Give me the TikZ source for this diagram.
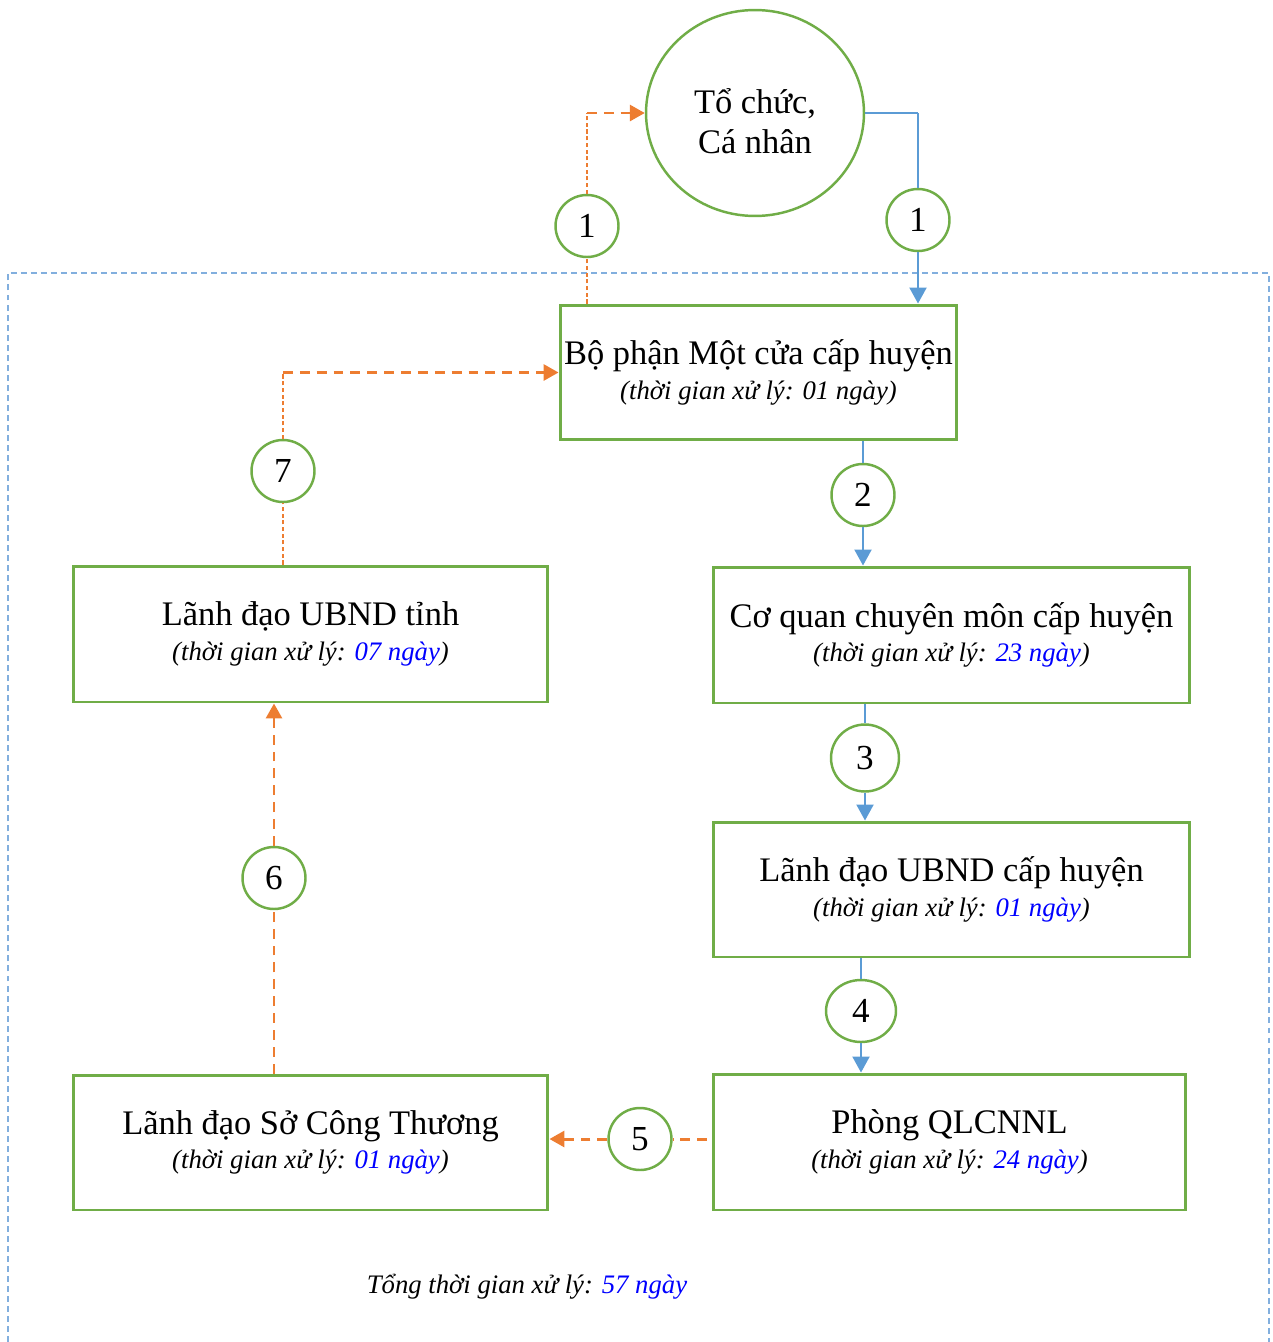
\documentclass[tikz,border=0pt]{standalone}
\usepackage{fontspec}
\setmainfont{Liberation Serif}
\usetikzlibrary{arrows.meta,shapes.geometric}
\definecolor{gr}{RGB}{112,173,71}
\definecolor{bl}{RGB}{91,155,213}
\definecolor{og}{RGB}{237,125,49}
\definecolor{fr}{RGB}{130,175,222}
\definecolor{tb}{RGB}{0,0,255}
\newcommand\mysub[1]{{\fontsize{15.2}{19.5}\selectfont\itshape #1}}
\newcommand\bluetxt[1]{\textcolor{tb}{#1}}
\begin{document}
\begin{tikzpicture}[x=0.02cm,y=-0.02cm,
  box/.style={draw=gr,line width=1.7pt,rectangle,fill=white,align=center,inner sep=0pt,
    font=\fontsize{19.6}{19.5}\selectfont},
  numc/.style={draw=gr,line width=1.4pt,ellipse,fill=white,inner sep=0pt,
    minimum width=1.26cm,minimum height=1.24cm,font=\fontsize{20}{20}\selectfont},
  bline/.style={draw=bl,line width=1.2pt},
  bthin/.style={draw=bl,line width=0.7pt},
  barrow/.style={bline,-{Triangle[length=0.32cm,width=0.34cm]}},
  othin/.style={draw=og,line width=0.7pt,dash pattern=on 2.4pt off 1.4pt},
  odash/.style={draw=og,line width=1.7pt,dash pattern=on 5.6pt off 4pt},
  oarrow/.style={odash,-{Triangle[length=0.3cm,width=0.32cm]}},
]
\useasboundingbox (0,0) rectangle (1272,1342);
% outer frame
\draw[fr,line width=1pt,dash pattern=on 3.4pt off 2.3pt] (8,1342) -- (8,273) -- (1269,273) -- (1269,1342);

% main nodes
\node[draw=gr,line width=1.4pt,ellipse,fill=white,inner sep=0pt,minimum width=4.36cm,minimum height=4.12cm]
  (tochuc) at (755,113) {};
\node[align=center,inner sep=0pt,font=\fontsize{19.6}{22.5}\selectfont] (tochuctxt) at (755,121)
  {Tổ chức,\\Cá nhân};
\node[box,minimum width=7.94cm,minimum height=2.7cm] (bophan) at (758.5,372.5)
  {Bộ phận Một cửa cấp huyện\\\mysub{(thời gian xử lý: 01 ngày)}};
\node[box,minimum width=9.54cm,minimum height=2.72cm] (coquan) at (951.5,635)
  {Cơ quan chuyên môn cấp huyện\\\mysub{(thời gian xử lý: \bluetxt{23 ngày})}};
\node[box,minimum width=9.54cm,minimum height=2.7cm] (huyen) at (951.5,889.5)
  {Lãnh đạo UBND cấp huyện\\\mysub{(thời gian xử lý: \bluetxt{01 ngày})}};
\node[box,minimum width=9.46cm,minimum height=2.72cm] (phong) at (949.5,1142)
  {Phòng QLCNNL\\\mysub{(thời gian xử lý: \bluetxt{24 ngày})}};
\node[box,minimum width=9.5cm,minimum height=2.7cm] (so) at (310.5,1142.5)
  {Lãnh đạo Sở Công Thương\\\mysub{(thời gian xử lý: \bluetxt{01 ngày})}};
\node[box,minimum width=9.5cm,minimum height=2.72cm] (tinh) at (310.5,634)
  {Lãnh đạo UBND tỉnh\\\mysub{(thời gian xử lý: \bluetxt{07 ngày})}};

% number circles
\node[numc] (c1a) at (587,226) {1};
\node[numc] (c1b) at (918,220) {1};
\node[numc] (c2) at (863,495) {2};
\node[numc,minimum width=1.36cm,minimum height=1.34cm] (c3) at (865,758) {3};
\node[numc,minimum width=1.4cm,minimum height=1.24cm] (c4) at (861,1011) {4};
\node[numc] (c5) at (640,1139) {5};
\node[numc] (c6) at (274,878) {6};
\node[numc] (c7) at (283,471) {7};

% corner coordinates
\coordinate (k1) at (c1a.center |- tochuc.west);
\coordinate (k2) at (c1b.center |- tochuc.east);
\coordinate (k7) at (c7.center |- bophan.west);
\coordinate (k5) at ([xshift=-0.1cm]phong.west |- c5.center);

% step 1 (return to applicant)
\draw[othin] (c1a.center |- bophan.north) -- (c1a.south);
\draw[othin] (c1a.north) -- (k1);
\draw[oarrow] (k1) -- (tochuc.west);
% step 1 (submission)
\draw[bthin] (tochuc.east) -- (k2);
\draw[bline] (k2) -- (c1b.north);
\draw[barrow] (c1b.south) -- (c1b.center |- bophan.north);
% step 2
\draw[bline] (c2.center |- bophan.south) -- (c2.north);
\draw[barrow] (c2.south) -- (c2.center |- coquan.north);
% step 3
\draw[bline] (c3.center |- coquan.south) -- (c3.north);
\draw[barrow] (c3.south) -- (c3.center |- huyen.north);
% step 4
\draw[bline] (c4.center |- huyen.south) -- (c4.north);
\draw[barrow] (c4.south) -- (c4.center |- phong.north);
% step 5
\draw[odash] (k5) -- (c5.east);
\draw[oarrow] (c5.west) -- (c5.center -| so.east);
% step 6
\draw[odash] (c6.center |- so.north) -- (c6.south);
\draw[oarrow] (c6.north) -- (c6.center |- tinh.south);
% step 7
\draw[othin] (c7.center |- tinh.north) -- (c7.south);
\draw[othin] (c7.north) -- (k7);
\draw[oarrow] (k7) -- (bophan.west);

% total
\node[font=\fontsize{15.2}{18}\selectfont\itshape] (total) at (527,1287)
  {Tổng thời gian xử lý: \bluetxt{57 ngày}};
\end{tikzpicture}
\end{document}
